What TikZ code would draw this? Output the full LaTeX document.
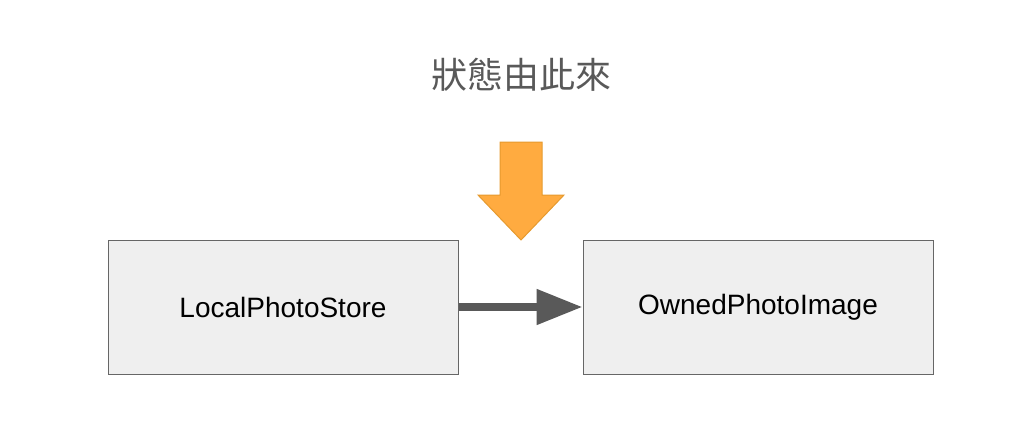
\documentclass[tikz,border=0pt]{standalone}
\usepackage{fontspec}
\setmainfont{Liberation Sans}
\newfontfamily\cjk{Noto Sans CJK TC}
\usetikzlibrary{arrows.meta}
\definecolor{boxfill}{HTML}{EFEFEF}
\definecolor{boxline}{HTML}{666666}
\definecolor{dark}{HTML}{595959}
\definecolor{orange}{HTML}{FFAB40}
\definecolor{orangeline}{HTML}{E69A2E}
\begin{document}
\begin{tikzpicture}[x=1pt,y=-1pt,
  box/.style={draw=boxline,line width=1pt,fill=boxfill,minimum width=350pt,minimum height=134pt,inner sep=0pt,font=\fontsize{28}{32}\selectfont},
]
\useasboundingbox (0,0) rectangle (1024,439);
\node[font=\cjk\fontsize{36}{40}\selectfont,text=dark] (title) at (521,75) {狀態由此來};
\node[box] (a) at (283,307) {LocalPhotoStore};
\node[box] (b) at (758,307) {OwnedPhotoImage};
\draw[dark,line width=8pt,-{Triangle[length=46pt,width=34pt]}] (a.east) -- (b.west);
\draw[orangeline,fill=orange,line width=1pt] (500,142) -- (542,142) -- (542,195) -- (564,195) -- (521,240) -- (478,195) -- (500,195) -- cycle;
\end{tikzpicture}
\end{document}
